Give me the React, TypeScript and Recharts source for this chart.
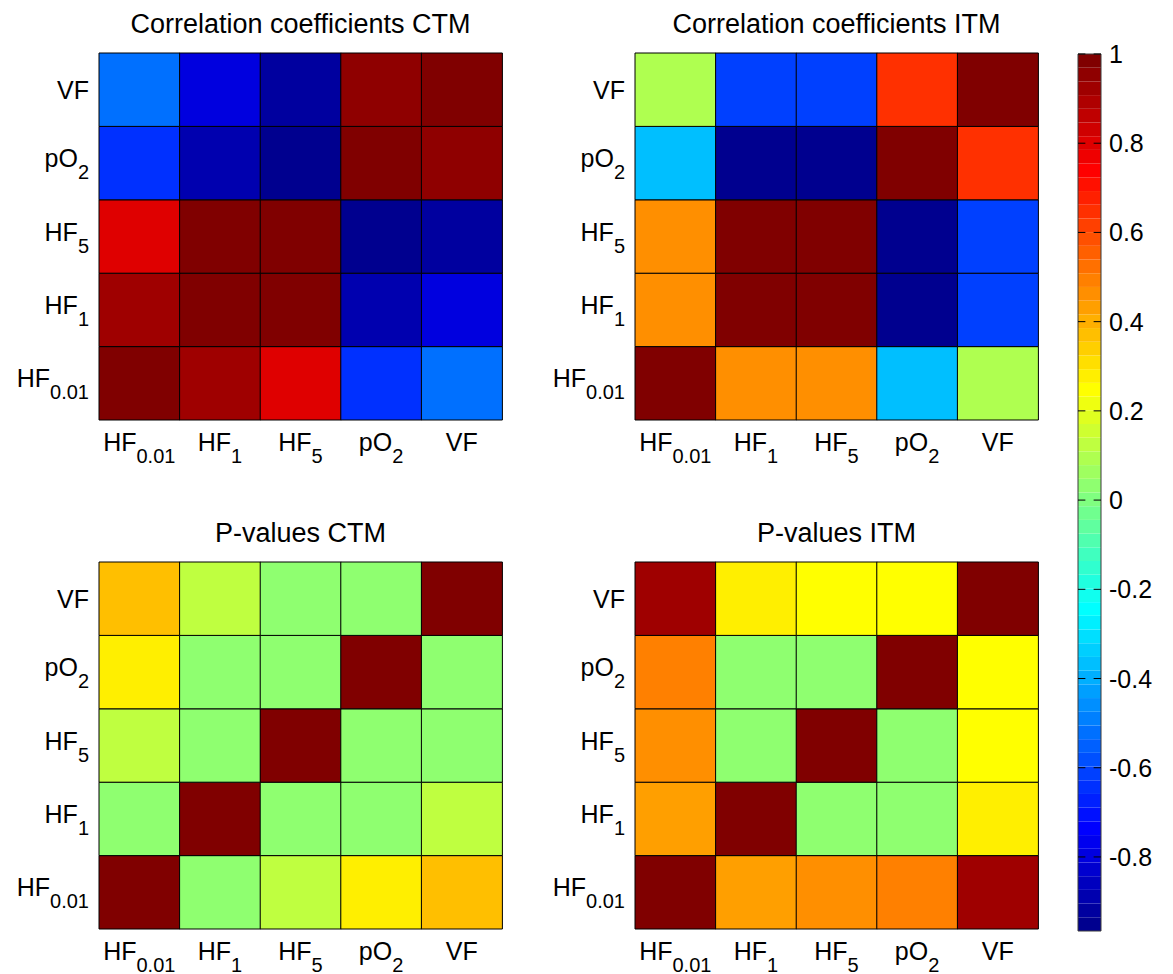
import React from "react";
import {
  BarChart,
  Bar,
  Cell,
  XAxis,
  YAxis,
  ComposedChart,
  ReferenceArea,
  ReferenceLine,
} from "recharts";

// categories, bottom->top on y and left->right on x
const categories = ["HF0.01", "HF1", "HF5", "pO2", "VF"];
const labelMain = ["HF", "HF", "HF", "pO", "VF"];
const labelSub = ["0.01", "1", "5", "2", ""];

// matrices: row i = y category i (HF0.01 at bottom), column j = x category j
const ctmCorr = [
  [1, 0.92, 0.8, -0.64, -0.52],
  [0.92, 1, 0.99, -0.9, -0.8],
  [0.8, 0.99, 1, -0.95, -0.92],
  [-0.64, -0.9, -0.95, 1, 0.95],
  [-0.52, -0.8, -0.92, 0.95, 1],
];
const itmCorr = [
  [1, 0.46, 0.46, -0.38, 0.09],
  [0.46, 1, 0.99, -0.95, -0.61],
  [0.46, 0.99, 1, -0.95, -0.61],
  [-0.38, -0.95, -0.95, 0.99, 0.65],
  [0.09, -0.61, -0.61, 0.65, 1],
];
const ctmP = [
  [1, 0.03, 0.12, 0.28, 0.37],
  [0.03, 1, 0.03, 0.03, 0.12],
  [0.12, 0.03, 1, 0.03, 0.03],
  [0.28, 0.03, 0.03, 1, 0.03],
  [0.37, 0.12, 0.03, 0.03, 1],
];
const itmP = [
  [1, 0.43, 0.46, 0.49, 0.92],
  [0.43, 1, 0.03, 0.03, 0.28],
  [0.46, 0.03, 1, 0.03, 0.25],
  [0.49, 0.03, 0.03, 1, 0.25],
  [0.92, 0.28, 0.25, 0.25, 1],
];

const cbarMin = -0.966;
const cbarMax = 1;
const cbarTicks = [-0.8, -0.6, -0.4, -0.2, 0, 0.2, 0.4, 0.6, 0.8, 1];
const LEVELS = 64;

const FONT = '"Liberation Sans", Arial, Helvetica, sans-serif';

// matlab jet(64)
function jetLevel(i: number) {
  const part = (k: number) => {
    if (k < 1 || k > 47) return 0;
    if (k <= 16) return k / 16;
    if (k <= 31) return 1;
    return (48 - k) / 16;
  };
  const to = (x: number) => Math.round(x * 255);
  return `rgb(${to(part(i - 24))},${to(part(i - 8))},${to(part(i + 8))})`;
}

function colorOf(v: number) {
  let idx = Math.floor(((v - cbarMin) / (cbarMax - cbarMin)) * LEVELS) + 1;
  idx = Math.max(1, Math.min(LEVELS, idx));
  return jetLevel(idx);
}

const XTick = (props: any) => {
  const { x, y, payload } = props;
  const k = categories.indexOf(payload.value);
  return (
    <text x={x} y={y + 31} textAnchor="middle" fontFamily={FONT} fontSize={25} fill="#000">
      <tspan>{labelMain[k]}</tspan>
      {labelSub[k] && (
        <tspan dy={12} fontSize={20}>
          {labelSub[k]}
        </tspan>
      )}
    </text>
  );
};

const YTick = (props: any) => {
  const { x, y, payload } = props;
  const k = Math.floor(payload.value);
  const sub = labelSub[k];
  return (
    <text x={x} y={y + (sub ? 4 : 9)} textAnchor="end" fontFamily={FONT} fontSize={25} fill="#000">
      <tspan>{labelMain[k]}</tspan>
      {sub && (
        <tspan dy={12} fontSize={20}>
          {sub}
        </tspan>
      )}
    </text>
  );
};

function Heatmap({ title, matrix, left, top }: { title: string; matrix: number[][]; left: number; top: number }) {
  const data = categories.map((c) => {
    const row: any = { col: c };
    categories.forEach((_, i) => {
      row["r" + i] = 1;
    });
    return row;
  });
  return (
    <div style={{ position: "absolute", left, top, width: 520, height: 480 }}>
      <BarChart
        width={520}
        height={480}
        data={data}
        margin={{ top: 53, right: 18, bottom: 0, left: 0 }}
        barCategoryGap={0}
        barGap={0}
      >
        <XAxis
          dataKey="col"
          height={60}
          axisLine={false}
          tickLine={false}
          tickSize={0}
          tickMargin={0}
          interval={0}
          tick={<XTick />}
        />
        <YAxis
          type="number"
          domain={[0, 5]}
          ticks={[0.5, 1.5, 2.5, 3.5, 4.5]}
          width={99}
          axisLine={false}
          tickLine={false}
          tickSize={0}
          tickMargin={10}
          interval={0}
          tick={<YTick />}
        />
        {categories.map((_, i) => (
          <Bar key={i} dataKey={"r" + i} stackId="m" isAnimationActive={false} stroke="#000" strokeWidth={1}>
            {categories.map((_, j) => (
              <Cell key={j} fill={colorOf(matrix[i][j])} />
            ))}
          </Bar>
        ))}
      </BarChart>
      <svg style={{ position: "absolute", left: 0, top: 0 }} width={520} height={53}>
        <text x={300.5} y={33} textAnchor="middle" fontFamily={FONT} fontSize={27} fill="#000">
          {title}
        </text>
      </svg>
    </div>
  );
}

const CbarTick = (props: any) => {
  const { x, y, payload } = props;
  return (
    <text x={x} y={y + 9} textAnchor="start" fontFamily={FONT} fontSize={25} fill="#000">
      {String(payload.value)}
    </text>
  );
};

function Colorbar() {
  const step = (cbarMax - cbarMin) / LEVELS;
  const bands = Array.from({ length: LEVELS }, (_, k) => k);
  return (
    <div style={{ position: "absolute", left: 1040, top: 0, width: 133, height: 974 }}>
      <ComposedChart
        width={133}
        height={974}
        data={[{ x: 0 }, { x: 1 }]}
        margin={{ top: 54, right: 0, bottom: 43, left: 38 }}
      >
        <XAxis type="number" dataKey="x" domain={[0, 1]} hide />
        <YAxis
          type="number"
          orientation="right"
          domain={[cbarMin, cbarMax]}
          allowDataOverflow
          ticks={cbarTicks}
          width={72}
          axisLine={false}
          tickLine={false}
          tickSize={0}
          tickMargin={8}
          interval={0}
          tick={<CbarTick />}
        />
        {bands.map((k) => (
          <ReferenceArea
            key={k}
            x1={0}
            x2={1}
            y1={cbarMin + k * step}
            y2={cbarMin + (k + 1) * step}
            fill={jetLevel(k + 1)}
            fillOpacity={1}
            stroke="none"
            ifOverflow="visible"
          />
        ))}
        <ReferenceArea
          x1={0}
          x2={1}
          y1={cbarMin}
          y2={cbarMax}
          fill="none"
          fillOpacity={0}
          stroke="#3a3a3a"
          strokeWidth={1}
          ifOverflow="visible"
        />
        {cbarTicks.map((t) => (
          <ReferenceLine
            key={"l" + t}
            segment={[
              { x: 0, y: t },
              { x: 0.32, y: t },
            ]}
            stroke="#000"
            strokeWidth={1}
            ifOverflow="visible"
          />
        ))}
        {cbarTicks.map((t) => (
          <ReferenceLine
            key={"r" + t}
            segment={[
              { x: 0.68, y: t },
              { x: 1, y: t },
            ]}
            stroke="#000"
            strokeWidth={1}
            ifOverflow="visible"
          />
        ))}
      </ComposedChart>
    </div>
  );
}

export default function App() {
  return (
    <div
      style={{
        position: "absolute",
        left: 0,
        top: 0,
        width: 1173,
        height: 974,
        overflow: "hidden",
        background: "#fff",
      }}
    >
      <Heatmap title="Correlation coefficients CTM" matrix={ctmCorr} left={0} top={0} />
      <Heatmap title="Correlation coefficients ITM" matrix={itmCorr} left={536} top={0} />
      <Heatmap title="P-values CTM" matrix={ctmP} left={0} top={509} />
      <Heatmap title="P-values ITM" matrix={itmP} left={536} top={509} />
      <Colorbar />
    </div>
  );
}
